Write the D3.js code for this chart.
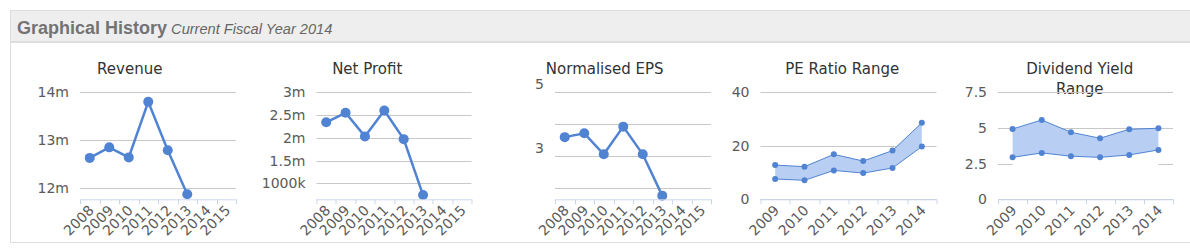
<!DOCTYPE html>
<html>
<head>
<meta charset="utf-8">
<script src="https://cdn.jsdelivr.net/npm/d3@7"></script>
<style>
  body { margin: 0; background: #fff; }
  svg { display: block; }
</style>
</head>
<body>
<svg width="1190" height="251"></svg>
<script>
// data
const years8 = ["2008", "2009", "2010", "2011", "2012", "2013", "2014", "2015"];
const years6 = ["2009", "2010", "2011", "2012", "2013", "2014"];

const revenue = [12.63, 12.85, 12.64, 13.80, 12.79, 11.87];   // millions
const netProfit = [2.34, 2.55, 2.03, 2.60, 1.97, 0.74];      // millions
const eps = [3.59, 3.71, 3.05, 3.92, 3.05, 1.75];
const peHigh = [12.8, 12.2, 16.8, 14.3, 18.2, 28.6];
const peLow = [7.6, 7.1, 10.8, 9.8, 11.7, 19.7];
const divHigh = [4.93, 5.56, 4.70, 4.28, 4.91, 4.98];
const divLow = [2.94, 3.25, 3.02, 2.94, 3.11, 3.46];

const revenueTicks = [12, 13, 14];
const revenueLabels = ["12m", "13m", "14m"];
const profitTicks = [1, 1.5, 2, 2.5, 3];
const profitLabels = ["1000k", "1.5m", "2m", "2.5m", "3m"];
const epsTicks = [2, 3, 4, 5];
const epsLabels = ["", "3", "", "5"];
const peTicks = [0, 20, 40];
const peLabels = ["0", "20", "40"];
const divTicks = [0, 2.5, 5, 7.5];
const divLabels = ["0", "2.5", "5", "7.5"];

const svg = d3.select("svg");
const blue = "#5183d3";
const font = "'DejaVu Sans', Verdana, sans-serif";

// panel + header
svg.append("rect").attr("x", 10.5).attr("y", 10.5).attr("width", 1200).attr("height", 232)
  .attr("fill", "#fff").attr("stroke", "#ddd");
svg.append("rect").attr("x", 11).attr("y", 11).attr("width", 1200).attr("height", 30).attr("fill", "#eee");
svg.append("rect").attr("x", 11).attr("y", 41).attr("width", 1200).attr("height", 2).attr("fill", "#ddd");
const head = svg.append("text").attr("x", 17).attr("y", 34)
  .style("font-family", "'Liberation Sans', Arial, sans-serif");
head.append("tspan").text("Graphical History")
  .style("font-weight", "bold").style("font-size", "18px").attr("fill", "#737373");
head.append("tspan").text(" Current Fiscal Year 2014")
  .style("font-style", "italic").style("font-size", "14.6px").attr("fill", "#666");

const charts = [
  { title: ["Revenue"], cats: years8, lines: [revenue], domain: [11.765, 14],
    ticks: revenueTicks, labels: revenueLabels, left: 69, width: 156, labelDy: 0 },
  { title: ["Net Profit"], cats: years8, lines: [netProfit], domain: [0.647, 3],
    ticks: profitTicks, labels: profitLabels, left: 68, width: 155, labelDy: 0 },
  { title: ["Normalised EPS"], cats: years8, lines: [eps], domain: [1.635, 5],
    ticks: epsTicks, labels: epsLabels, left: 69, width: 156, labelDy: -8 },
  { title: ["PE Ratio Range"], cats: years6, range: [peLow, peHigh], domain: [0, 40],
    ticks: peTicks, labels: peLabels, left: 37, width: 176, labelDy: 0 },
  { title: ["Dividend Yield", "Range"], cats: years6, range: [divLow, divHigh], domain: [0, 7.5],
    ticks: divTicks, labels: divLabels, left: 37, width: 175, labelDy: 0 }
];

const plotTop = 92.3, plotBottom = 199.3;

charts.forEach((c, i) => {
  const x0 = 11 + i * 237.5;
  const g = svg.append("g").attr("transform", `translate(${x0},0)`);

  const x = d3.scaleBand().domain(c.cats).range([c.left, c.left + c.width]);
  const y = d3.scaleLinear().domain(c.domain).range([plotBottom, plotTop]);
  const cx = d => x(d) + x.bandwidth() / 2;

  // title
  const t = g.append("text").attr("text-anchor", "middle")
    .style("font-family", font).style("font-size", "15px").attr("fill", "#333");
  c.title.forEach((line, k) => {
    t.append("tspan").attr("x", 118.75).attr("y", 74 + k * 20).text(line);
  });

  // grid
  g.append("g").selectAll("line").data(c.ticks).enter().append("line")
    .attr("x1", c.left).attr("x2", c.left + c.width)
    .attr("y1", d => Math.round(y(d)) + 0.5).attr("y2", d => Math.round(y(d)) + 0.5)
    .attr("stroke", "#c8c8c8");

  // y labels
  g.append("g").selectAll("text").data(c.ticks).enter().append("text")
    .attr("x", c.left - 11).attr("y", d => y(d) + 5 + c.labelDy)
    .attr("text-anchor", "end")
    .style("font-family", font).style("font-size", "14px").attr("fill", "#5a5a5a")
    .text((d, k) => c.labels[k]);

  if (c.range) {
    const [lo, hi] = c.range;
    const cats = c.cats.slice(0, lo.length);
    // white floor under the band
    g.append("path").datum(cats)
      .attr("d", d3.area().x(cx).y0(y(0) - 1).y1((d, k) => y(lo[k])))
      .attr("fill", "#fff");
    g.append("path").datum(cats)
      .attr("d", d3.area().x(cx).y0((d, k) => y(lo[k])).y1((d, k) => y(hi[k])))
      .attr("fill", "#b8cff3");
    [lo, hi].forEach(vals => {
      g.append("path").datum(cats)
        .attr("d", d3.line().x(cx).y((d, k) => y(vals[k])))
        .attr("fill", "none").attr("stroke", blue).attr("stroke-width", 1);
      g.append("g").selectAll("circle").data(cats).enter().append("circle")
        .attr("cx", cx).attr("cy", (d, k) => y(vals[k])).attr("r", 3)
        .attr("fill", blue);
    });
  } else {
    c.lines.forEach(vals => {
      const cats = c.cats.slice(0, vals.length);
      g.append("path").datum(cats)
        .attr("d", d3.line().x(cx).y((d, k) => y(vals[k])))
        .attr("fill", "none").attr("stroke", blue).attr("stroke-width", 2.5);
      g.append("g").selectAll("circle").data(cats).enter().append("circle")
        .attr("cx", cx).attr("cy", (d, k) => y(vals[k])).attr("r", 5)
        .attr("fill", blue);
    });
  }

  // x axis
  const ax = g.append("g");
  ax.append("line").attr("x1", c.left).attr("x2", c.left + c.width)
    .attr("y1", plotBottom + 0.5).attr("y2", plotBottom + 0.5).attr("stroke", "#ccd6eb");
  const edges = c.cats.map(d => x(d)).concat([c.left + c.width]);
  ax.selectAll(".tk").data(edges).enter().append("line")
    .attr("x1", d => Math.round(d) + 0.5).attr("x2", d => Math.round(d) + 0.5)
    .attr("y1", plotBottom).attr("y2", plotBottom + 5).attr("stroke", "#ccd6eb");
  ax.selectAll("text").data(c.cats).enter().append("text")
    .attr("transform", d => `translate(${cx(d) + 5},${plotBottom + 12}) rotate(-45)`)
    .attr("text-anchor", "end")
    .style("font-family", font).style("font-size", "14px").attr("fill", "#5a5a5a")
    .text(d => d);
});
</script>
</body>
</html>
